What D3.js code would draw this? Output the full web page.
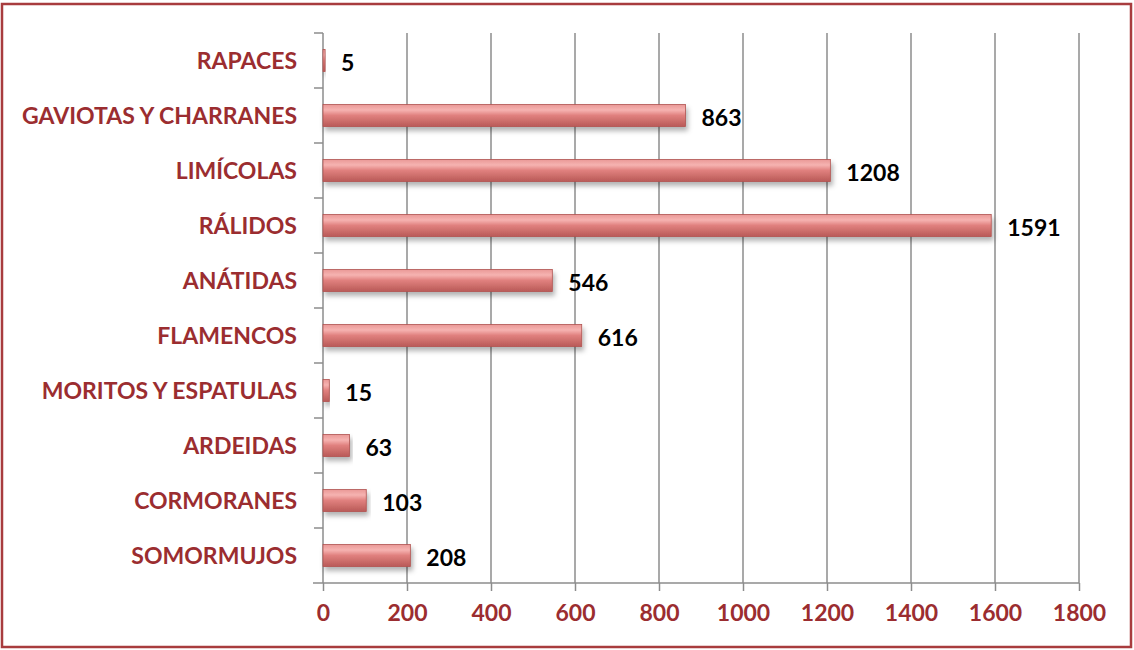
<!DOCTYPE html>
<html>
<head>
<meta charset="utf-8">
<script src="https://cdn.jsdelivr.net/npm/d3@7"></script>
<style>
  body { margin: 0; background: #fff; }
  svg text { font-family: Lato, "Open Sans", sans-serif; font-weight: bold; }
</style>
</head>
<body>
<div id="chart"></div>
<script>
// categories, bottom to top as in the picture
const categories = ["SOMORMUJOS", "CORMORANES", "ARDEIDAS", "MORITOS Y ESPATULAS", "FLAMENCOS",
  "ANÁTIDAS", "RÁLIDOS", "LIMÍCOLAS", "GAVIOTAS Y CHARRANES", "RAPACES"];
const counts = [208, 103, 63, 15, 616, 546, 1591, 1208, 863, 5];
const xTicks = [0, 200, 400, 600, 800, 1000, 1200, 1400, 1600, 1800];

const width = 1134;
const height = 650;
const plotLeft = 323, plotRight = 1079, plotTop = 33, plotBottom = 583;
const dark_red = "#9b2d30";

const svg = d3.select("#chart").append("svg").attr("width", width).attr("height", height);

// bar look
const defs = svg.append("defs");
const grad = defs.append("linearGradient").attr("id", "barfill").attr("x1", 0).attr("y1", 0).attr("x2", 0).attr("y2", 1);
grad.append("stop").attr("offset", "0%").attr("stop-color", "#e99896");
grad.append("stop").attr("offset", "25%").attr("stop-color", "#f6b3b1");
grad.append("stop").attr("offset", "50%").attr("stop-color", "#e0807e");
grad.append("stop").attr("offset", "100%").attr("stop-color", "#b95a57");
const shadow = defs.append("filter").attr("id", "shadow").attr("x", "-5%").attr("y", "-20%").attr("width", "115%").attr("height", "180%");
shadow.append("feDropShadow").attr("dx", 2).attr("dy", 4).attr("stdDeviation", 2.5).attr("flood-color", "#000").attr("flood-opacity", 0.3);

// frame
svg.append("rect").attr("x", 2).attr("y", 4).attr("width", 1129).attr("height", 643)
  .attr("fill", "none").attr("stroke", "#a83c3e").attr("stroke-width", 2.5);

const x = d3.scaleLinear().domain([0, 1800]).range([plotLeft, plotRight]);
const y = d3.scaleBand().domain(categories).range([plotBottom, plotTop]);

// gridlines
svg.append("g").selectAll("line").data(xTicks.slice(1)).join("line")
  .attr("x1", d => x(d)).attr("x2", d => x(d)).attr("y1", plotTop).attr("y2", plotBottom)
  .attr("stroke", "#8c8c8c").attr("stroke-width", 1.5);

// x axis
const xAxis = svg.append("g").attr("transform", `translate(0,${plotBottom})`)
  .call(d3.axisBottom(x).tickValues(xTicks).tickFormat(d3.format("d")).tickSize(8).tickPadding(14));
xAxis.select(".domain").attr("stroke", "#8c8c8c").attr("stroke-width", 1.5)
  .attr("d", `M${plotLeft - 10},0H${plotRight}`);
xAxis.selectAll(".tick line").attr("stroke", "#8c8c8c").attr("stroke-width", 1.5);
xAxis.selectAll("text").attr("fill", dark_red).attr("font-size", 23);

// y axis with ticks at band edges
const yAxis = svg.append("g").attr("transform", `translate(${plotLeft},0)`);
yAxis.append("line").attr("x1", 0).attr("x2", 0).attr("y1", plotTop).attr("y2", plotBottom)
  .attr("stroke", "#8c8c8c").attr("stroke-width", 1.5);
yAxis.selectAll(".edge").data(categories).join("line").attr("class", "edge")
  .attr("x1", -9).attr("x2", 0).attr("y1", d => y(d)).attr("y2", d => y(d))
  .attr("stroke", "#8c8c8c").attr("stroke-width", 1.5);
yAxis.selectAll(".lab").data(categories).join("text").attr("class", "lab")
  .attr("x", -26).attr("y", d => y(d) + y.bandwidth() / 2).attr("dy", "0.35em")
  .attr("text-anchor", "end").attr("fill", dark_red).attr("font-size", 23).text(d => d);

// bars
const barH = 22;
svg.append("g").selectAll("rect").data(categories).join("rect")
  .attr("x", x(0)).attr("y", d => y(d) + y.bandwidth() / 2 - barH / 2)
  .attr("width", (d, i) => x(counts[i]) - x(0)).attr("height", barH)
  .attr("fill", "url(#barfill)").attr("stroke", "#b05350").attr("stroke-width", 0.8)
  .attr("filter", "url(#shadow)");

// value labels
svg.append("g").selectAll("text").data(categories).join("text")
  .attr("x", (d, i) => x(counts[i]) + 16).attr("y", d => y(d) + y.bandwidth() / 2 + 2).attr("dy", "0.35em")
  .attr("fill", "#000").attr("font-size", 23).text((d, i) => counts[i]);
</script>
</body>
</html>
